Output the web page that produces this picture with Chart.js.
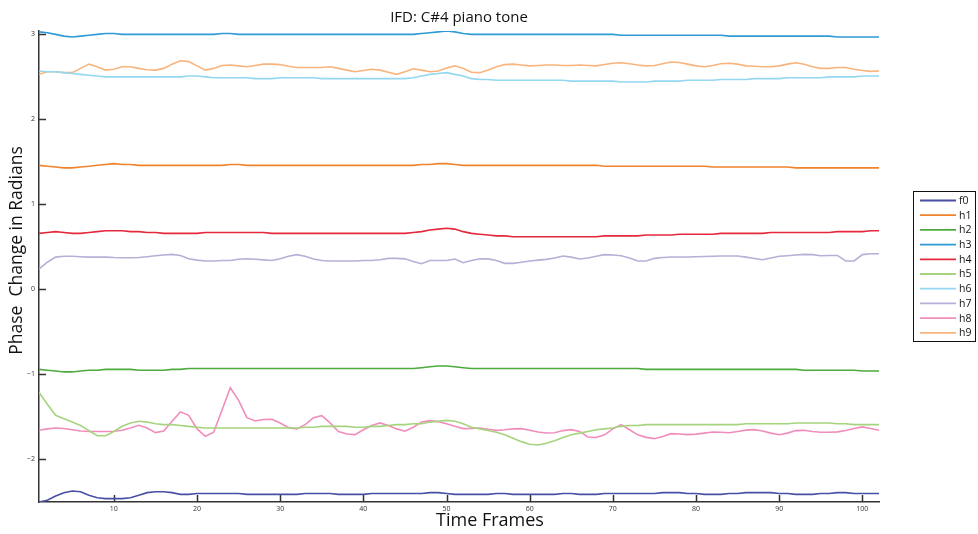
<!DOCTYPE html>
<html>
<head>
<meta charset="utf-8">
<title>IFD: C#4 piano tone</title>
<script src="https://cdn.jsdelivr.net/npm/chart.js@4"></script>
<style>
  html, body { margin: 0; padding: 0; background: #fff; }
  #wrap { width: 978px; height: 534px; position: relative; }
</style>
</head>
<body>
<div id="wrap"><canvas id="ifdChart"></canvas></div>
<script>
// phase change per time frame, fundamental + 9 harmonics
const seriesNames = ["f0", "h1", "h2", "h3", "h4", "h5", "h6", "h7", "h8", "h9"];
const seriesColors = ["#4a4fa6", "#f0832c", "#4cab3c", "#2e9bd6", "#e6283c",
                      "#a6d47e", "#93d7f0", "#b8aed6", "#f08dbc", "#f8b47c"];
const xTicks = [10, 20, 30, 40, 50, 60, 70, 80, 90, 100];
const yTicks = [-2, -1, 0, 1, 2, 3];

const titleText = "IFD: C#4 piano tone";
const xTitle = "Time Frames";
const yTitle = "Phase  Change in Radians";

const f0 = [-2.51,-2.49,-2.44,-2.40,-2.38,-2.39,-2.43,-2.46,-2.47,-2.47,
  -2.47,-2.46,-2.43,-2.40,-2.39,-2.39,-2.40,-2.42,-2.42,-2.41,
  -2.41,-2.41,-2.41,-2.41,-2.41,-2.42,-2.42,-2.42,-2.42,-2.42,
  -2.42,-2.42,-2.41,-2.41,-2.41,-2.41,-2.42,-2.42,-2.42,-2.42,
  -2.41,-2.41,-2.41,-2.41,-2.41,-2.41,-2.41,-2.40,-2.40,-2.41,
  -2.42,-2.42,-2.42,-2.42,-2.42,-2.41,-2.41,-2.42,-2.42,-2.42,
  -2.42,-2.42,-2.42,-2.41,-2.41,-2.42,-2.42,-2.42,-2.41,-2.41,
  -2.41,-2.41,-2.41,-2.41,-2.41,-2.40,-2.40,-2.40,-2.41,-2.41,
  -2.42,-2.42,-2.42,-2.41,-2.41,-2.40,-2.40,-2.40,-2.40,-2.41,
  -2.41,-2.42,-2.42,-2.42,-2.41,-2.41,-2.40,-2.40,-2.41,-2.41,
  -2.41,-2.41];
const h1 = [1.45,1.44,1.43,1.42,1.42,1.43,1.44,1.45,1.46,1.47,
  1.46,1.46,1.45,1.45,1.45,1.45,1.45,1.45,1.45,1.45,
  1.45,1.45,1.45,1.46,1.46,1.45,1.45,1.45,1.45,1.45,
  1.45,1.45,1.45,1.45,1.45,1.45,1.45,1.45,1.45,1.45,
  1.45,1.45,1.45,1.45,1.45,1.45,1.46,1.46,1.47,1.47,
  1.46,1.45,1.45,1.45,1.45,1.45,1.45,1.45,1.45,1.45,
  1.45,1.45,1.45,1.45,1.45,1.45,1.45,1.45,1.44,1.44,
  1.44,1.44,1.44,1.44,1.44,1.44,1.44,1.44,1.44,1.44,
  1.44,1.43,1.43,1.43,1.43,1.43,1.43,1.43,1.43,1.43,
  1.43,1.42,1.42,1.42,1.42,1.42,1.42,1.42,1.42,1.42,
  1.42,1.42];
const h2 = [-0.95,-0.96,-0.97,-0.98,-0.98,-0.97,-0.96,-0.96,-0.95,-0.95,
  -0.95,-0.95,-0.96,-0.96,-0.96,-0.96,-0.95,-0.95,-0.94,-0.94,
  -0.94,-0.94,-0.94,-0.94,-0.94,-0.94,-0.94,-0.94,-0.94,-0.94,
  -0.94,-0.94,-0.94,-0.94,-0.94,-0.94,-0.94,-0.94,-0.94,-0.94,
  -0.94,-0.94,-0.94,-0.94,-0.94,-0.94,-0.93,-0.92,-0.91,-0.91,
  -0.92,-0.93,-0.94,-0.94,-0.94,-0.94,-0.94,-0.94,-0.94,-0.94,
  -0.94,-0.94,-0.94,-0.94,-0.94,-0.94,-0.94,-0.94,-0.94,-0.94,
  -0.94,-0.94,-0.94,-0.95,-0.95,-0.95,-0.95,-0.95,-0.95,-0.95,
  -0.95,-0.95,-0.95,-0.95,-0.95,-0.95,-0.95,-0.95,-0.95,-0.95,
  -0.95,-0.95,-0.96,-0.96,-0.96,-0.96,-0.96,-0.96,-0.96,-0.97,
  -0.97,-0.97];
const h3 = [3.02,3.01,2.99,2.97,2.96,2.97,2.98,2.99,3.00,3.00,
  2.99,2.99,2.99,2.99,2.99,2.99,2.99,2.99,2.99,2.99,
  2.99,2.99,3.00,3.00,2.99,2.99,2.99,2.99,2.99,2.99,
  2.99,2.99,2.99,2.99,2.99,2.99,2.99,2.99,2.99,2.99,
  2.99,2.99,2.99,2.99,2.99,2.99,3.00,3.01,3.02,3.03,
  3.02,3.00,2.99,2.99,2.99,2.99,2.99,2.99,2.99,2.99,
  2.99,2.99,2.99,2.99,2.99,2.99,2.99,2.99,2.99,2.99,
  2.98,2.98,2.98,2.98,2.98,2.98,2.98,2.98,2.98,2.98,
  2.98,2.98,2.98,2.97,2.97,2.97,2.97,2.97,2.97,2.97,
  2.97,2.97,2.97,2.97,2.97,2.97,2.96,2.96,2.96,2.96,
  2.96,2.96];
const h4 = [0.65,0.66,0.67,0.66,0.65,0.65,0.66,0.67,0.68,0.68,
  0.68,0.67,0.67,0.66,0.66,0.65,0.65,0.65,0.65,0.65,
  0.66,0.66,0.66,0.66,0.66,0.66,0.66,0.66,0.65,0.65,
  0.65,0.65,0.65,0.65,0.65,0.65,0.65,0.65,0.65,0.65,
  0.65,0.65,0.65,0.65,0.65,0.66,0.67,0.69,0.70,0.71,
  0.70,0.67,0.65,0.64,0.63,0.62,0.62,0.61,0.61,0.61,
  0.61,0.61,0.61,0.61,0.61,0.61,0.61,0.61,0.62,0.62,
  0.62,0.62,0.62,0.63,0.63,0.63,0.63,0.64,0.64,0.64,
  0.64,0.64,0.65,0.65,0.65,0.65,0.65,0.65,0.66,0.66,
  0.66,0.66,0.66,0.66,0.66,0.66,0.67,0.67,0.67,0.67,
  0.68,0.68];
const h5 = [-1.22,-1.36,-1.49,-1.53,-1.57,-1.61,-1.67,-1.73,-1.73,-1.68,
  -1.62,-1.58,-1.56,-1.57,-1.59,-1.60,-1.60,-1.61,-1.62,-1.63,
  -1.64,-1.64,-1.64,-1.64,-1.64,-1.64,-1.64,-1.64,-1.64,-1.64,
  -1.64,-1.64,-1.63,-1.63,-1.62,-1.62,-1.62,-1.62,-1.63,-1.63,
  -1.62,-1.62,-1.61,-1.60,-1.60,-1.59,-1.59,-1.57,-1.56,-1.55,
  -1.56,-1.59,-1.63,-1.65,-1.67,-1.69,-1.72,-1.76,-1.80,-1.83,
  -1.84,-1.82,-1.79,-1.75,-1.72,-1.70,-1.68,-1.66,-1.65,-1.64,
  -1.62,-1.61,-1.61,-1.60,-1.60,-1.60,-1.60,-1.60,-1.60,-1.60,
  -1.60,-1.60,-1.60,-1.60,-1.60,-1.59,-1.59,-1.59,-1.59,-1.59,
  -1.59,-1.58,-1.58,-1.58,-1.58,-1.58,-1.59,-1.59,-1.60,-1.60,
  -1.60,-1.60];
const h6 = [2.56,2.55,2.55,2.54,2.53,2.52,2.51,2.50,2.49,2.49,
  2.49,2.49,2.49,2.49,2.49,2.49,2.49,2.49,2.50,2.50,
  2.49,2.48,2.48,2.48,2.48,2.48,2.47,2.47,2.47,2.48,
  2.48,2.48,2.48,2.48,2.47,2.47,2.47,2.47,2.47,2.47,
  2.47,2.47,2.47,2.47,2.47,2.48,2.50,2.52,2.53,2.54,
  2.52,2.50,2.47,2.46,2.46,2.45,2.45,2.45,2.45,2.45,
  2.45,2.45,2.45,2.45,2.44,2.44,2.44,2.44,2.44,2.44,
  2.43,2.43,2.43,2.43,2.44,2.44,2.44,2.44,2.45,2.45,
  2.45,2.45,2.46,2.46,2.46,2.46,2.47,2.47,2.47,2.47,
  2.48,2.48,2.48,2.48,2.48,2.49,2.49,2.49,2.49,2.50,
  2.50,2.50];
const h7 = [0.23,0.31,0.37,0.38,0.38,0.375,0.37,0.37,0.37,0.365,
  0.363,0.363,0.365,0.375,0.387,0.395,0.403,0.39,0.35,0.335,
  0.325,0.325,0.33,0.33,0.345,0.352,0.345,0.338,0.33,0.35,
  0.38,0.40,0.38,0.348,0.33,0.325,0.325,0.325,0.325,0.33,
  0.33,0.34,0.356,0.356,0.35,0.32,0.293,0.33,0.33,0.33,
  0.348,0.305,0.33,0.352,0.35,0.33,0.297,0.297,0.31,0.325,
  0.335,0.344,0.36,0.383,0.37,0.348,0.36,0.38,0.40,0.395,
  0.387,0.36,0.325,0.325,0.356,0.365,0.372,0.372,0.372,0.375,
  0.377,0.38,0.383,0.383,0.383,0.37,0.355,0.34,0.36,0.38,
  0.387,0.395,0.403,0.40,0.387,0.39,0.39,0.325,0.325,0.40,
  0.41,0.41];
const h8 = [-1.667,-1.65,-1.64,-1.645,-1.66,-1.675,-1.68,-1.68,-1.68,-1.678,
  -1.667,-1.64,-1.608,-1.64,-1.694,-1.675,-1.56,-1.45,-1.49,-1.651,
  -1.737,-1.69,-1.43,-1.166,-1.315,-1.518,-1.557,-1.54,-1.537,-1.58,
  -1.635,-1.65,-1.60,-1.518,-1.494,-1.58,-1.68,-1.71,-1.717,-1.66,
  -1.61,-1.58,-1.61,-1.65,-1.678,-1.63,-1.569,-1.553,-1.565,-1.59,
  -1.62,-1.647,-1.645,-1.64,-1.655,-1.667,-1.66,-1.65,-1.647,-1.665,
  -1.686,-1.698,-1.695,-1.67,-1.659,-1.68,-1.745,-1.752,-1.72,-1.65,
  -1.60,-1.66,-1.72,-1.75,-1.765,-1.74,-1.706,-1.71,-1.718,-1.712,
  -1.70,-1.686,-1.69,-1.696,-1.68,-1.665,-1.659,-1.675,-1.70,-1.718,
  -1.70,-1.67,-1.667,-1.68,-1.69,-1.69,-1.685,-1.67,-1.645,-1.627,
  -1.645,-1.667];
const h9 = [2.52,2.55,2.55,2.54,2.54,2.59,2.64,2.61,2.57,2.58,
  2.61,2.61,2.59,2.575,2.57,2.59,2.64,2.68,2.67,2.62,
  2.57,2.59,2.625,2.63,2.62,2.61,2.625,2.64,2.64,2.635,
  2.615,2.60,2.60,2.60,2.60,2.61,2.59,2.57,2.55,2.565,
  2.58,2.57,2.545,2.52,2.55,2.585,2.57,2.55,2.56,2.595,
  2.62,2.59,2.545,2.54,2.57,2.61,2.635,2.64,2.63,2.62,
  2.625,2.63,2.63,2.625,2.625,2.63,2.625,2.62,2.635,2.65,
  2.656,2.645,2.63,2.62,2.625,2.645,2.665,2.66,2.64,2.62,
  2.61,2.625,2.645,2.65,2.64,2.62,2.615,2.61,2.61,2.62,
  2.64,2.656,2.64,2.61,2.59,2.59,2.60,2.60,2.58,2.565,
  2.555,2.56];

const allSeries = [f0, h1, h2, h3, h4, h5, h6, h7, h8, h9];
const frames = f0.map((_, i) => i + 1);

const fontFamily = "'Open Sans', 'Noto Sans', sans-serif";

// MATLAB style: ticks pointing into the axes
const insideTicks = {
  id: "insideTicks",
  beforeDatasetsDraw(chart) {
    const { ctx, chartArea: a, scales: { x, y } } = chart;
    ctx.save();
    ctx.strokeStyle = "#333";
    ctx.lineWidth = 1.5;
    ctx.beginPath();
    yTicks.forEach((v) => {
      const py = Math.round(y.getPixelForValue(v)) + 0.5;
      ctx.moveTo(a.left, py);
      ctx.lineTo(a.left + 7, py);
    });
    xTicks.forEach((v) => {
      const px = Math.round(x.getPixelForValue(v)) + 0.5;
      ctx.moveTo(px, a.bottom);
      ctx.lineTo(px, a.bottom - 7);
    });
    ctx.stroke();
    ctx.restore();
  },
};

// title and axis labels, placed like the matlab figure (a bit off-centre)
const figureText = {
  id: "figureText",
  afterDraw(chart) {
    const { ctx, chartArea: a } = chart;
    const midX = (a.left + a.right) / 2;
    ctx.save();
    ctx.fillStyle = "#111";
    ctx.textAlign = "center";
    ctx.textBaseline = "middle";
    ctx.font = "15px " + fontFamily;
    ctx.fillText(titleText, midX, 18);
    ctx.font = "18px " + fontFamily;
    ctx.fillText(xTitle, midX + 31, a.bottom + 19);
    ctx.translate(17, (a.top + a.bottom) / 2 - 16);
    ctx.rotate(-Math.PI / 2);
    ctx.font = "17.5px " + fontFamily;
    ctx.fillText(yTitle, 0, 0);
    ctx.restore();
  },
};

// boxed legend sitting right of the axes
const boxLegend = {
  id: "boxLegend",
  afterDraw(chart) {
    const { ctx } = chart;
    const left = 913, top = 191, w = 62, h = 150, row = 14.7;
    ctx.save();
    ctx.fillStyle = "#fff";
    ctx.fillRect(left, top, w, h);
    ctx.strokeStyle = "#111";
    ctx.lineWidth = 1;
    ctx.strokeRect(left + 0.5, top + 0.5, w, h);
    ctx.font = "10.5px " + fontFamily;
    ctx.textBaseline = "middle";
    chart.data.datasets.forEach((ds, i) => {
      const cy = top + 9.5 + i * row;
      ctx.strokeStyle = ds.borderColor;
      ctx.lineWidth = 1.8;
      ctx.beginPath();
      ctx.moveTo(left + 7, cy);
      ctx.lineTo(left + 43, cy);
      ctx.stroke();
      ctx.fillStyle = "#111";
      ctx.fillText(ds.label, left + 46, cy + 0.5);
    });
    ctx.restore();
  },
};

const minus = (v) => (v < 0 ? "\u2212" + Math.abs(v) : String(v));

new Chart(document.getElementById("ifdChart"), {
  type: "line",
  data: {
    datasets: allSeries.map((vals, i) => ({
      label: seriesNames[i],
      data: vals.map((v, j) => ({ x: frames[j], y: v })),
      borderColor: seriesColors[i],
      backgroundColor: seriesColors[i],
      borderWidth: 1.6,
      pointRadius: 0,
      tension: 0,
      fill: false,
    })),
  },
  options: {
    animation: false,
    responsive: true,
    maintainAspectRatio: false,
    layout: { padding: { left: 0, right: 99, top: 31, bottom: 0 } },
    plugins: {
      legend: { display: false },
      tooltip: { enabled: false },
      title: { display: false },
    },
    scales: {
      x: {
        type: "linear",
        min: 1,
        max: 102,
        grid: { display: false, drawTicks: false },
        border: { display: true, color: "#333", width: 1.5 },
        afterBuildTicks: (s) => { s.ticks = xTicks.map((v) => ({ value: v })); },
        afterFit: (s) => { s.height = 32; },
        ticks: {
          padding: 3,
          maxRotation: 0,
          color: "#333",
          font: { family: fontFamily, size: 7 },
          callback: (v) => minus(v),
        },
      },
      y: {
        type: "linear",
        min: -2.51,
        max: 3.03,
        grid: { display: false, drawTicks: false },
        border: { display: true, color: "#333", width: 1.5 },
        afterBuildTicks: (s) => { s.ticks = yTicks.map((v) => ({ value: v })); },
        afterFit: (s) => { s.width = 39; },
        ticks: {
          padding: 4,
          color: "#333",
          font: { family: fontFamily, size: 7 },
          callback: (v) => minus(v),
        },
      },
    },
  },
  plugins: [insideTicks, figureText, boxLegend],
});
</script>
</body>
</html>
